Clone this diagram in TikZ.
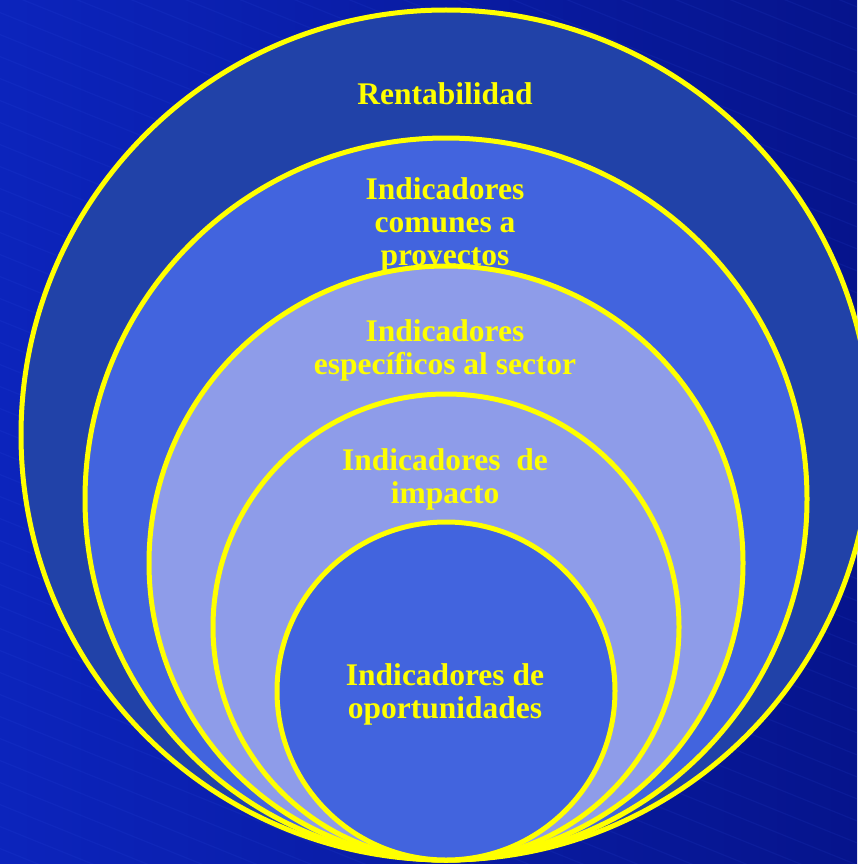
\documentclass[tikz,border=0pt]{standalone}
\usepackage{fontspec}
\setmainfont{Liberation Serif}
\definecolor{bgblue}{HTML}{0C24BC}
\definecolor{bgdark}{HTML}{06148C}
\definecolor{streakblue}{HTML}{3A5CF0}
\definecolor{ringnavy}{HTML}{2142A8}
\definecolor{ringroyal}{HTML}{4264DE}
\definecolor{ringpale}{HTML}{8E9CE9}
\definecolor{ringline}{HTML}{FFFF00}
\tikzset{
  ring/.style={draw=ringline, line width=5pt, fill=#1},
  ringtext/.style={text=ringline, font=\fontsize{31.5}{33}\selectfont\bfseries,
    align=center, anchor=base, inner sep=0pt},
  streak/.style={streakblue, line width=1.2pt, opacity=0.1}
}

\begin{document}
\begin{tikzpicture}[x=1pt,y=-1pt]
\useasboundingbox (0,0) rectangle (857,864);
\shade[left color=bgblue, right color=bgdark] (0,0) rectangle (857,864);
\begin{scope}
\clip (0,0) rectangle (857,864);
\foreach \k in {0,...,60}
  \draw[streak] (-150,\k*22-400) -- ++(22:1300);
\end{scope}

% rings, outside in (text anchored on its last line)
\draw[ring=ringnavy] (446,435) circle (425);
\node[ringtext] (rentab) at (445,105) {Rentabilidad};
\draw[ring=ringroyal] (446,499) circle (361);
\node[ringtext] (comunes) at (445,265) {Indicadores\\comunes a\\proyectos};
\draw[ring=ringpale] (446,563) circle (297);
\node[ringtext] (sector) at (445,374) {Indicadores\\específicos al sector};
\draw[ring=ringpale] (446,627) circle (233);
\node[ringtext] (impacto) at (445,503) {Indicadores\ \ de\\impacto};
\draw[ring=ringroyal] (446,691) circle (169);
\node[ringtext] (oportun) at (445,718) {Indicadores de\\oportunidades};

\end{tikzpicture}
\end{document}
